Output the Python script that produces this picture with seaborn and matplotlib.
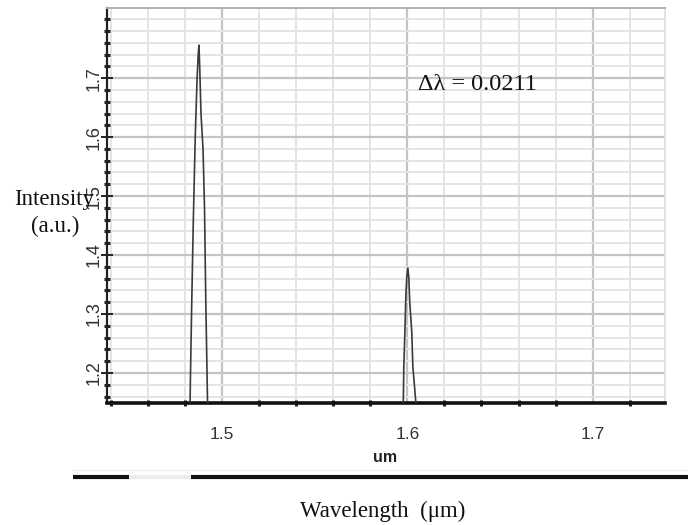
import numpy as np
import pandas as pd
import matplotlib
matplotlib.use("Agg")
import matplotlib.pyplot as plt
from matplotlib.lines import Line2D
from matplotlib.ticker import MultipleLocator
import seaborn as sns

# ---- data ----
wavelength = [1.4300, 1.4826, 1.4830, 1.4836, 1.4845, 1.4856, 1.4866, 1.4872, 1.4876,
              1.4880, 1.4887, 1.4898, 1.4906, 1.4913, 1.4925,
              1.4935, 1.5970, 1.5977, 1.5981, 1.5987, 1.5992, 1.5997, 1.6003, 1.6008,
              1.6013, 1.6024, 1.6030, 1.6046, 1.6051, 1.6060, 1.7500]
intensity = [1.000, 1.100, 1.190, 1.300, 1.450, 1.600, 1.700, 1.740, 1.756,
             1.720, 1.640, 1.580, 1.480, 1.320, 1.100,
             1.000, 1.000, 1.120, 1.210, 1.270, 1.330, 1.362, 1.378, 1.362,
             1.320, 1.270, 1.210, 1.150, 1.110, 1.000, 1.000]
x_ticks = [1.5, 1.6, 1.7]
y_ticks = [1.2, 1.3, 1.4, 1.5, 1.6, 1.7]
x_label_axis = "um"
y_label = ["Intensity", "(a.u.)"]
x_label = "Wavelength  (\u03bcm)"
annotation = "\u0394\u03bb = 0.0211"

df = pd.DataFrame({"wavelength": wavelength, "intensity": intensity})

sns.set_style("white")
plt.rcParams["font.family"] = ["Liberation Sans", "DejaVu Sans"]

W, H = 688, 525
fig = plt.figure(figsize=(W / 100, H / 100), dpi=100)
ax = fig.add_axes([107 / W, 1 - 403 / H, (665 - 107) / W, (403 - 8) / H])

sns.lineplot(data=df, x="wavelength", y="intensity", ax=ax, color="#3a3a3a",
             linewidth=1.2, estimator=None, sort=False, zorder=5)

ax.set_xlim(1.438, 1.739)
ax.set_ylim(1.149, 1.819)

ax.xaxis.set_major_locator(MultipleLocator(0.1))
ax.xaxis.set_minor_locator(MultipleLocator(0.02))
ax.yaxis.set_major_locator(MultipleLocator(0.1))
ax.yaxis.set_minor_locator(MultipleLocator(0.02))
ax.set_xticks(x_ticks)
ax.set_yticks(y_ticks)
ax.set_xticklabels([f"{v:.1f}" for v in x_ticks],
                   fontdict={"family": ["Liberation Sans Narrow", "Liberation Sans", "DejaVu Sans"],
                             "size": 12.5, "color": "#333333"})
ax.set_yticklabels([f"{v:.1f}" for v in y_ticks], rotation=90, va="center",
                   fontdict={"family": ["Liberation Sans", "DejaVu Sans"], "size": 13,
                             "color": "#333333"})

ax.grid(which="major", color="#c4c4c4", linewidth=1.6, zorder=0)
ax.grid(which="minor", color="#e4e4e4", linewidth=1.4, zorder=0)
ax.set_axisbelow(True)

ax.tick_params(which="both", left=True, bottom=True)
ax.tick_params(axis="y", which="major", direction="inout", length=9, width=1.4,
               color="#222222", pad=-1)
ax.tick_params(axis="y", which="minor", direction="inout", length=5, width=2.2,
               color="#222222")
ax.tick_params(axis="x", which="major", direction="inout", length=0, pad=17)
ax.tick_params(axis="x", which="minor", direction="inout", length=5, width=2.2,
               color="#222222")

ax.spines["left"].set_color("#222222")
ax.spines["left"].set_linewidth(1.6)
ax.spines["bottom"].set_color("#111111")
ax.spines["bottom"].set_linewidth(2.6)
ax.spines["top"].set_color("#b0b0b0")
ax.spines["top"].set_linewidth(1.4)
ax.spines["right"].set_color("#dddddd")
ax.spines["right"].set_linewidth(1.2)

ax.set_xlabel("")
ax.set_ylabel("")

serif = ["Liberation Serif", "DejaVu Serif"]
fig.text(385 / W, 1 - 457 / H, x_label_axis, ha="center", va="center",
         fontsize=11.5, fontweight="bold",
         family=["Liberation Sans Narrow", "Liberation Sans", "DejaVu Sans"], color="#222222")
fig.text(54 / W, 1 - 199 / H, y_label[0], ha="center", va="center", fontsize=16.5,
         family=serif, color="#111111")
fig.text(55 / W, 1 - 226 / H, y_label[1], ha="center", va="center", fontsize=16.5,
         family=serif, color="#111111")
fig.text(418 / W, 1 - 84 / H, annotation, ha="left", va="center", fontsize=17.5,
         family=serif, color="#111111")
fig.text(383 / W, 1 - 511 / H, x_label, ha="center", va="center", fontsize=16.5,
         family=serif, color="#111111")

# scrollbar-like decoration under the axis
fig.add_artist(Line2D([73 / W, 1.0], [1 - 470 / H] * 2, transform=fig.transFigure,
                      color="#eeeeee", linewidth=1.0))
fig.add_artist(Line2D([73 / W, 129 / W], [1 - 477 / H] * 2, transform=fig.transFigure,
                      color="#111111", linewidth=3.0, solid_capstyle="butt"))
fig.add_artist(Line2D([129 / W, 191 / W], [1 - 477 / H] * 2, transform=fig.transFigure,
                      color="#ececec", linewidth=3.0, solid_capstyle="butt"))
fig.add_artist(Line2D([191 / W, 1.0], [1 - 477 / H] * 2, transform=fig.transFigure,
                      color="#111111", linewidth=3.0, solid_capstyle="butt"))

fig.savefig("out.png", dpi=100)
